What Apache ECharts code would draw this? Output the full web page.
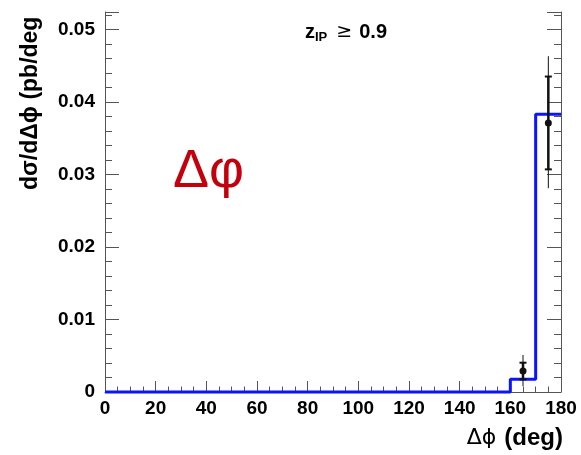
<!DOCTYPE html>
<html>
<head>
<meta charset="utf-8">
<script src="https://cdn.jsdelivr.net/npm/echarts@6/dist/echarts.min.js"></script>
<style>
html, body { margin: 0; padding: 0; background: #fff; }
#chart { width: 581px; height: 455px; }
</style>
</head>
<body>
<div id="chart"></div>
<script>
// Histogram: bin edges (deg) and bin contents (pb/deg)
const binEdges = [0, 10, 20, 30, 40, 50, 60, 70, 80, 90, 100, 110, 120, 130, 140, 150, 160, 170, 180];
const binValues = [0, 0, 0, 0, 0, 0, 0, 0, 0, 0, 0, 0, 0, 0, 0, 0, 0.00175, 0.0383];

// Measured points with statistical and total uncertainties
const pointX = [165, 175];
const pointY = [0.0029, 0.0371];
const statLow = [0.00174, 0.0307];
const statHigh = [0.00404, 0.0435];
const totalLow = [0.0008, 0.0281];
const totalHigh = [0.0051, 0.0463];

// Axis tick labels
const xTicks = [0, 20, 40, 60, 80, 100, 120, 140, 160, 180];
const yTicks = [0, 0.01, 0.02, 0.03, 0.04, 0.05];

const histData = binEdges.slice(0, -1).map((e, i) => [e, binValues[i]]);
histData.push([binEdges[binEdges.length - 1], binValues[binValues.length - 1]]);

const pointData = pointX.map((x, i) => [x, pointY[i], statLow[i], statHigh[i], totalLow[i], totalHigh[i]]);

const axisColor = '#555';
const font = '"Liberation Sans", Arial, Helvetica, sans-serif';

const chart = echarts.init(document.getElementById('chart'), null, { renderer: 'canvas' });

chart.setOption({
  animation: false,
  backgroundColor: '#fff',
  grid: { left: 105, right: 20, top: 12, bottom: 63 },
  xAxis: [{
    type: 'value', min: 0, max: 180, interval: 20,
    axisLine: { show: true, onZero: false, lineStyle: { color: axisColor, width: 1 } },
    axisTick: { show: true, inside: true, length: 11, lineStyle: { color: axisColor } },
    minorTick: { show: true, splitNumber: 4, length: 5.5, lineStyle: { color: axisColor } },
    splitLine: { show: false },
    axisLabel: {
      margin: 7, fontSize: 19, fontWeight: 'bold', color: '#000', fontFamily: font,
      formatter: v => xTicks.includes(v) ? String(v) : ''
    }
  }],
  yAxis: [{
    type: 'value', min: 0, max: 0.0524, interval: 0.01, position: 'left',
    axisLine: { show: true, onZero: false, lineStyle: { color: axisColor, width: 1 } },
    axisTick: { show: true, inside: true, length: 14, lineStyle: { color: axisColor } },
    minorTick: { show: true, splitNumber: 5, length: 7, lineStyle: { color: axisColor } },
    splitLine: { show: false },
    axisLabel: {
      margin: 10, fontSize: 19, fontWeight: 'bold', color: '#000', fontFamily: font,
      showMaxLabel: false,
      formatter: v => {
        const t = yTicks.find(k => Math.abs(k - v) < 1e-9);
        return t === undefined ? '' : String(t);
      }
    }
  }, {
    type: 'value', min: 0, max: 0.0524, interval: 0.01, position: 'right',
    axisLine: { show: true, onZero: false, lineStyle: { color: axisColor, width: 1 } },
    axisTick: { show: true, inside: true, length: 14, lineStyle: { color: axisColor } },
    minorTick: { show: true, splitNumber: 5, length: 7, lineStyle: { color: axisColor } },
    splitLine: { show: false },
    axisLabel: { show: false }
  }],
  series: [{
    type: 'line',
    step: 'end',
    data: histData,
    symbol: 'none',
    clip: false,
    z: 5,
    lineStyle: { color: '#0a14ff', width: 3 }
  }, {
    type: 'custom',
    data: pointData,
    z: 6,
    clip: false,
    renderItem: (params, api) => {
      const x = api.value(0);
      const c = api.coord([x, api.value(1)]);
      const sl = api.coord([x, api.value(2)]);
      const sh = api.coord([x, api.value(3)]);
      const tl = api.coord([x, api.value(4)]);
      const th = api.coord([x, api.value(5)]);
      const cap = 3.5;
      const stroke = { stroke: '#111', fill: null };
      return {
        type: 'group',
        children: [
          { type: 'line', shape: { x1: c[0], y1: tl[1], x2: c[0], y2: th[1] }, style: Object.assign({ lineWidth: 1 }, stroke) },
          { type: 'line', shape: { x1: c[0], y1: sl[1], x2: c[0], y2: sh[1] }, style: Object.assign({ lineWidth: 2.5 }, stroke) },
          { type: 'line', shape: { x1: c[0] - cap, y1: sl[1], x2: c[0] + cap, y2: sl[1] }, style: Object.assign({ lineWidth: 2 }, stroke) },
          { type: 'line', shape: { x1: c[0] - cap, y1: sh[1], x2: c[0] + cap, y2: sh[1] }, style: Object.assign({ lineWidth: 2 }, stroke) },
          { type: 'circle', shape: { cx: c[0], cy: c[1], r: 3.5 }, style: { fill: '#111' } }
        ]
      };
    }
  }],
  graphic: [{
    type: 'text',
    x: 31, y: 190,
    rotation: Math.PI / 2,
    style: {
      text: 'dσ/dΔϕ (pb/deg',
      font: 'bold 23px ' + font,
      fill: '#000',
      align: 'left',
      verticalAlign: 'middle'
    }
  }, {
    type: 'text',
    x: 563, y: 438,
    style: {
      text: '{g|Δϕ}{b|(deg)}',
      align: 'right',
      verticalAlign: 'middle',
      rich: {
        g: { fontFamily: '"DejaVu Sans", sans-serif', fontSize: 22, fill: '#000', padding: [0, 8, 0, 0] },
        b: { fontFamily: font, fontSize: 24, fontWeight: 'bold', fill: '#000' }
      }
    }
  }, {
    type: 'text',
    x: 305, y: 32,
    style: {
      text: '{z|z}{s|IP}{ge|≥}{z|0.9}',
      align: 'left',
      verticalAlign: 'middle',
      rich: {
        z: { fontFamily: font, fontSize: 20, fontWeight: 'bold', fill: '#000' },
        s: { fontFamily: font, fontSize: 13, fontWeight: 'bold', fill: '#000', padding: [11, 0, 0, 0] },
        ge: { fontFamily: '"DejaVu Sans", sans-serif', fontSize: 19, fill: '#000', padding: [0, 7, 0, 9] }
      }
    }
  }, {
    type: 'text',
    x: 173, y: 172,
    style: {
      text: 'Δφ',
      font: '54px ' + font,
      fill: '#c4000c',
      align: 'left',
      verticalAlign: 'middle'
    }
  }]
});
</script>
</body>
</html>
